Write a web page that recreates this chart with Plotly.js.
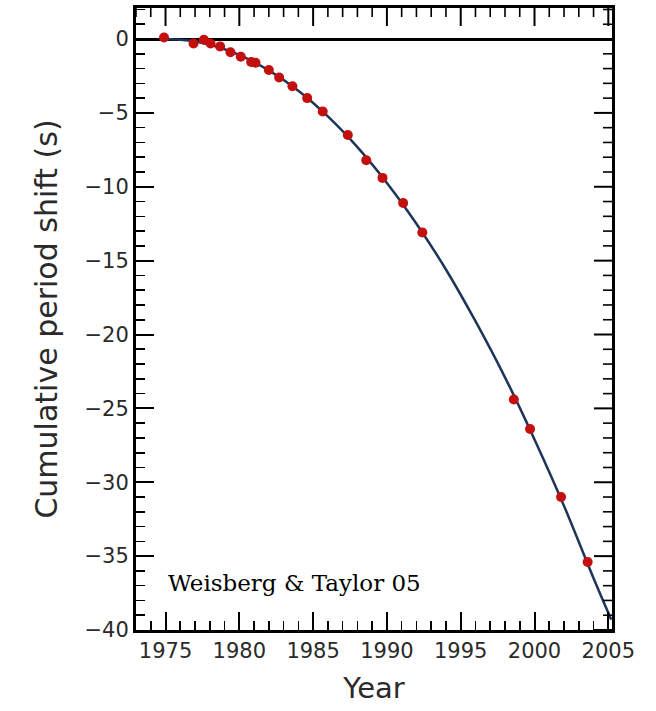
<!DOCTYPE html>
<html>
<head>
<meta charset="utf-8">
<script src="https://cdn.plot.ly/plotly-3.0.1.min.js"></script>
<style>
html,body{margin:0;padding:0;background:#fff;overflow:hidden;width:656px;height:711px;}
#chart{width:656px;height:763px;margin-top:-52px;}
</style>
</head>
<body>
<div id="chart"></div>
<script>
// Observed data points (year, cumulative period shift in s)
var obsYears = [1974.9, 1976.9, 1977.6, 1978.05, 1978.7, 1979.4, 1980.1, 1980.8, 1981.1, 1982.0, 1982.7, 1983.6, 1984.6, 1985.65, 1987.35, 1988.6, 1989.7, 1991.1, 1992.4, 1998.6, 1999.7, 2001.8, 2003.6];
var obsShift = [0.1, -0.3, -0.05, -0.3, -0.5, -0.9, -1.2, -1.55, -1.6, -2.1, -2.6, -3.2, -4.0, -4.9, -6.5, -8.2, -9.4, -11.1, -13.1, -24.4, -26.4, -31.0, -35.4];

// GR prediction curve
var curveYears = [1975, 1976, 1977, 1978, 1979, 1980, 1982, 1984, 1986, 1988, 1990, 1992, 1994, 1996, 1998, 2000, 2002, 2004, 2005.2];
var curveShift = [0, -0.05, -0.17, -0.39, -0.69, -1.08, -2.12, -3.5, -5.24, -7.32, -9.74, -12.5, -15.6, -19.1, -22.9, -27.1, -31.6, -36.5, -39.3];

var W = 656, H = 763;
var M = {l: 136, r: 44, t: 60, b: 81};
var plotW = W - M.l - M.r, plotH = H - M.t - M.b;
var majorLen = 18, minorLen = 9;

// mirrored ticks on the top and right edges (same positions as the axis ticks)
var shapes = [];
for (var yr = 1973; yr <= 2005; yr++) {
  var len = (yr % 5 === 0) ? majorLen : minorLen;
  shapes.push({type: 'line', layer: 'above', xref: 'x', yref: 'paper', x0: yr, x1: yr, y0: 1 - len / plotH, y1: 1,
    line: {color: '#000', width: (yr % 5 === 0) ? 2 : 1.6}});
}
for (var v = -40; v <= 2; v++) {
  var lenY = (v % 5 === 0) ? majorLen : minorLen;
  shapes.push({type: 'line', layer: 'above', xref: 'paper', yref: 'y', x0: 1 - lenY / plotW, x1: 1, y0: v, y1: v,
    line: {color: '#000', width: (v % 5 === 0) ? 2 : 1.6}});
}

var traces = [
  {x: curveYears, y: curveShift, mode: 'lines', type: 'scatter', line: {color: '#1c3558', width: 2.5, shape: 'spline'}, hoverinfo: 'skip'},
  {x: obsYears, y: obsShift, mode: 'markers', type: 'scatter', marker: {color: '#c40f0f', size: 10, symbol: 'circle'}}
];

function mainAxis() {
  return {
    showline: true, linecolor: '#000', linewidth: 3, mirror: true,
    ticks: 'inside', ticklen: majorLen, tickwidth: 2, tickcolor: '#000',
    showgrid: false, tickmode: 'linear', dtick: 5,
    tickfont: {family: 'DejaVu Sans', size: 21, color: '#2a2a2a'},
    minor: {ticks: 'inside', ticklen: minorLen, tickwidth: 1.6, tickcolor: '#000', dtick: 1, showgrid: false}
  };
}

var layout = {
  width: W, height: H,
  margin: M,
  paper_bgcolor: '#fff', plot_bgcolor: '#fff',
  showlegend: false,
  xaxis: Object.assign(mainAxis(), {
    range: [1973, 2005.25], tick0: 1975, zeroline: false,
    title: {text: 'Year', font: {family: 'DejaVu Sans', size: 29, color: '#2a2a2a'}, standoff: 16}
  }),
  yaxis: Object.assign(mainAxis(), {
    range: [-40, 2.1], tick0: 0,
    zeroline: true, zerolinecolor: '#000', zerolinewidth: 3,
    title: {text: 'Cumulative period shift (s)', font: {family: 'DejaVu Sans', size: 30, color: '#2a2a2a'}, standoff: 18}
  }),
  shapes: shapes,
  annotations: [{
    x: 1975, y: -36.8, xref: 'x', yref: 'y', xanchor: 'left', yanchor: 'middle',
    text: 'Weisberg &amp; Taylor 05', showarrow: false,
    font: {family: 'DejaVu Serif', size: 23, color: '#000'}
  }]
};

Plotly.newPlot('chart', traces, layout, {displayModeBar: false, staticPlot: true});
</script>
</body>
</html>
